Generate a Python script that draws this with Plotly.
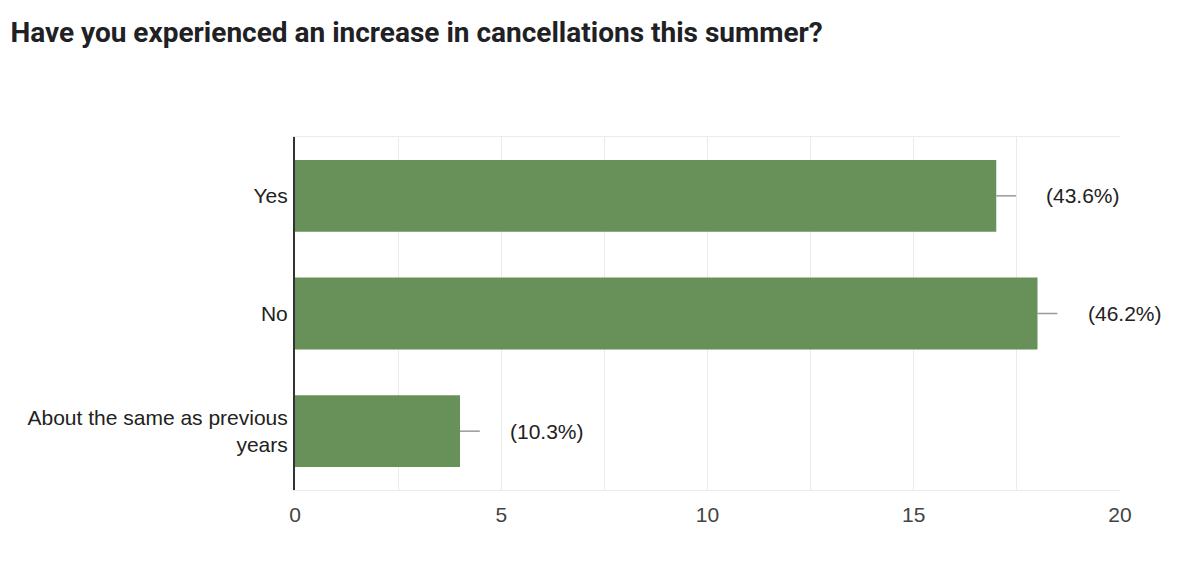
import plotly.graph_objects as go

categories = ["Yes", "No", "About the same as previous<br>years"]
counts = [17, 18, 4]
pct_labels = ["(43.6%)", "(46.2%)", "(10.3%)"]
x_ticks = [0, 5, 10, 15, 20]

bar_color = "#679159"

fig = go.Figure()

fig.add_trace(go.Bar(
    y=categories, x=counts, orientation="h",
    marker=dict(color=bar_color, line=dict(width=0)),
    width=0.61, hoverinfo="skip", showlegend=False,
))

# little connector ticks + percent labels
for cat, v, lab in zip(categories, counts, pct_labels):
    fig.add_trace(go.Scatter(
        x=[v, v + 0.48], y=[cat, cat], mode="lines",
        line=dict(color="#999999", width=1.5),
        hoverinfo="skip", showlegend=False,
    ))
    fig.add_annotation(
        x=v, y=cat, text=lab, showarrow=False,
        xanchor="left", xshift=48,
        font=dict(family="Liberation Sans, Arial", size=21, color="#222222"),
    )

# page body adds 8px offset, margins compensate
fig.update_layout(
    width=1200, height=585,
    paper_bgcolor="white", plot_bgcolor="white",
    margin=dict(l=287, r=88, t=129, b=103),
    title=dict(
        text="<b>Have you experienced an increase in cancellations this summer?</b>",
        x=0.002, xanchor="left", y=0.959, yanchor="middle",
        font=dict(family="Roboto", size=28, color="#202124"),
    ),
)

fig.update_xaxes(
    range=[0, 20], tickvals=x_ticks, ticktext=[str(t) for t in x_ticks],
    showgrid=True, gridcolor="#ebebeb", gridwidth=1,
    minor=dict(dtick=2.5, showgrid=True, gridcolor="#ebebeb", gridwidth=1),
    showline=True, linecolor="#ebebeb", linewidth=1, mirror=True,
    zeroline=False, ticks="",
    tickfont=dict(family="Liberation Sans, Arial", size=21, color="#444444"),
    ticklabelstandoff=6,
)

fig.update_yaxes(
    autorange="reversed",
    showline=True, linecolor="#333333", linewidth=2,
    showgrid=False, ticks="",
    tickfont=dict(family="Liberation Sans, Arial", size=21, color="#222222"),
    ticklabelstandoff=1,
)

fig.write_html("out.html")
